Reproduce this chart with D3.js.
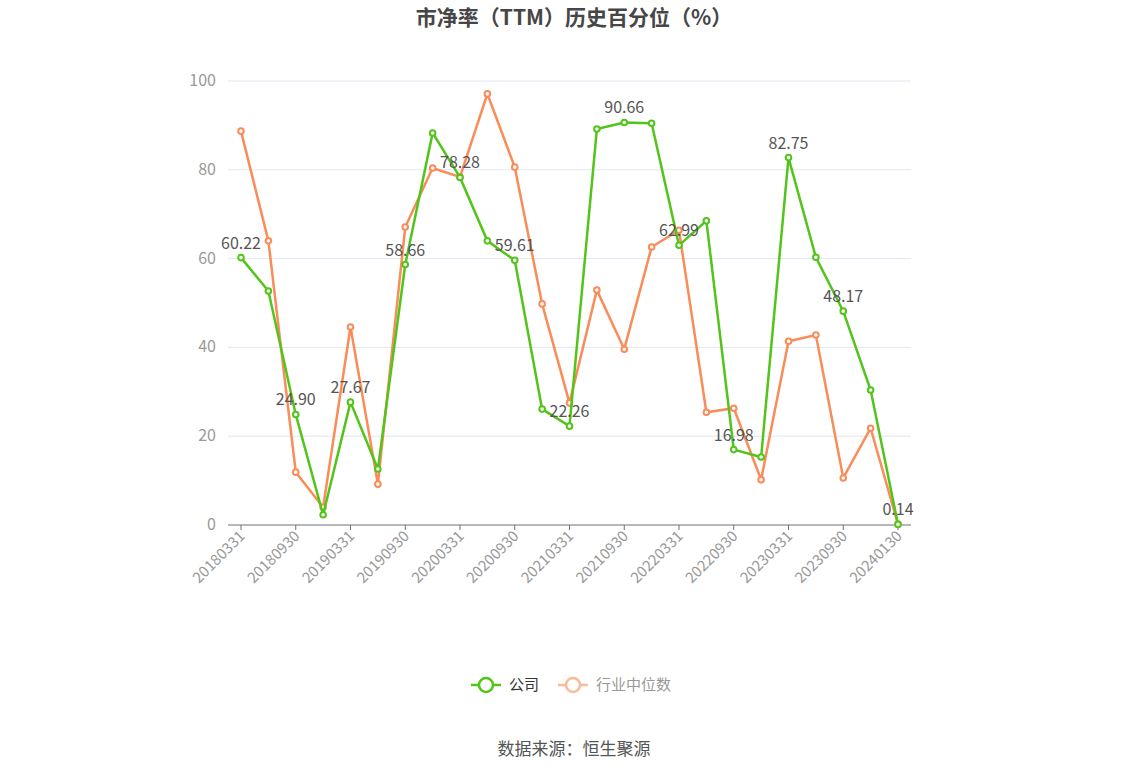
<!DOCTYPE html><html><head><meta charset="utf-8"><script src="https://cdn.jsdelivr.net/npm/d3@7"></script>
<style>body{margin:0;background:#fff;font-family:"Noto Sans CJK SC","Noto Sans",sans-serif}</style></head><body><svg id="c" width="1148" height="776"></svg>
<script>
const categories=["20180331","20180630","20180930","20181231","20190331","20190630","20190930","20191231","20200331","20200630","20200930","20201231","20210331","20210630","20210930","20211231","20220331","20220630","20220930","20221231","20230331","20230630","20230930","20231231","20240130"];
const company=[60.22,52.7,24.90,2.3,27.67,12.6,58.66,88.3,78.28,64.0,59.61,26.1,22.26,89.2,90.66,90.5,62.99,68.5,16.98,15.3,82.75,60.3,48.17,30.4,0.14];
const industry=[88.7,64.0,11.9,4.0,44.6,9.2,67.1,80.4,78.4,97.1,80.6,49.8,27.5,52.9,39.6,62.6,66.4,25.4,26.3,10.2,41.4,42.8,10.6,21.8,0.2];
const yTicks=[0,20,40,60,80,100];
const labelIdx=[0,2,4,6,8,10,12,14,16,18,20,22,24];
const svg=d3.select("#c");
const x=d3.scalePoint().domain(categories).range([241,898]);
const y=d3.scaleLinear().domain([0,100]).range([525,81]);
svg.append("text").attr("x",574).attr("y",25).attr("text-anchor","middle").attr("font-size",21).attr("font-weight","bold").attr("fill","#464646").text("市净率（TTM）历史百分位（%）");
yTicks.forEach(t=>{
 if(t>0)svg.append("line").attr("x1",228).attr("x2",911).attr("y1",y(t)).attr("y2",y(t)).attr("stroke","#e0e6f1");
 svg.append("text").attr("x",216).attr("y",y(t)+5).attr("text-anchor","end").attr("font-size",16).attr("fill","#999").text(t);
});
svg.append("line").attr("x1",228).attr("x2",911).attr("y1",525).attr("y2",525).attr("stroke","#6e7079");
labelIdx.forEach(i=>{
 const xx=x(categories[i]);
 svg.append("line").attr("x1",xx).attr("x2",xx).attr("y1",525).attr("y2",530).attr("stroke","#6e7079");
 svg.append("text").attr("transform",`translate(${xx+5},${537}) rotate(-45)`).attr("text-anchor","end").attr("font-size",15).attr("fill","#999").text(categories[i]);
});
function series(data,color){
 svg.append("path").datum(data).attr("fill","none").attr("stroke",color).attr("stroke-width",2.5)
  .attr("d",d3.line().x((d,i)=>x(categories[i])).y(d=>y(d)));
 svg.selectAll(null).data(data).enter().append("circle").attr("cx",(d,i)=>x(categories[i])).attr("cy",d=>y(d)).attr("r",2.8).attr("fill","#fff").attr("stroke",color).attr("stroke-width",2);
}
series(industry,"#f98c58");
series(company,"#52c41a");
labelIdx.forEach(i=>{
 svg.append("text").attr("x",x(categories[i])).attr("y",y(company[i])-9).attr("text-anchor","middle").attr("font-size",16).attr("fill","#555").text(company[i].toFixed(2));
});
const lg=[{n:"公司",c:"#52c41a",x:471},{n:"行业中位数",c:"#fbb99a",x:558}];
lg.forEach(l=>{
 svg.append("line").attr("x1",l.x).attr("x2",l.x+30).attr("y1",685).attr("y2",685).attr("stroke",l.c).attr("stroke-width",2.5);
 svg.append("circle").attr("cx",l.x+15).attr("cy",685).attr("r",7).attr("fill","#fff").attr("stroke",l.c).attr("stroke-width",2.5);
 svg.append("text").attr("x",l.x+38).attr("y",690).attr("font-size",15).attr("fill",l.c==="#52c41a"?"#333":"#999").text(l.n);
});
svg.append("text").attr("x",574).attr("y",755).attr("text-anchor","middle").attr("font-size",17).attr("fill","#555").text("数据来源：恒生聚源");
</script></body></html>
